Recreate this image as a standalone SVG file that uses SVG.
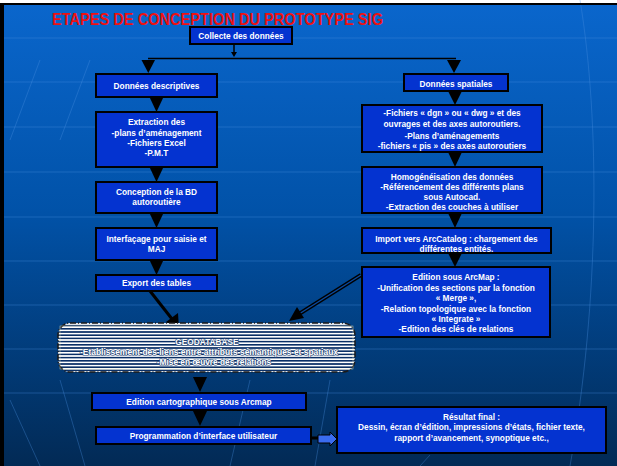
<svg xmlns="http://www.w3.org/2000/svg" width="617" height="466" viewBox="0 0 617 466">
<defs>
<linearGradient id="bg" x1="0" y1="0" x2="0" y2="1">
<stop offset="0" stop-color="#0a66cc"/>
<stop offset="0.45" stop-color="#0152a8"/>
<stop offset="1" stop-color="#022a55"/>
</linearGradient>
<pattern id="stripes" width="8" height="3.2" patternUnits="userSpaceOnUse">
<rect width="8" height="3.2" fill="#0a2f66"/>
<rect y="0" width="8" height="1.6" fill="#ffffff"/>
</pattern>
<marker id="ah" viewBox="0 0 10 10" refX="9" refY="5" markerWidth="4" markerHeight="4" orient="auto" markerUnits="strokeWidth">
<path d="M0,0 L10,5 L0,10 z" fill="#000"/>
</marker>
<style>
.box{fill:#0433d0;stroke:#000;stroke-width:2}
.t{font-family:"Liberation Sans",Arial,sans-serif;font-weight:bold;font-size:8.3px;fill:#fff;text-anchor:middle}
.tri{fill:#000}
.grid{stroke:#4a8ee0;stroke-width:1;fill:none;opacity:0.35}
.conn{stroke:#000;fill:none}
</style>
</defs>
<rect width="617" height="466" fill="#ffffff"/>
<rect x="0" y="4" width="617" height="462" fill="url(#bg)"/>
<g id="background-grid">
<line class="grid" x1="4" y1="38" x2="617" y2="38"/>
<line class="grid" x1="4" y1="82" x2="617" y2="82"/>
<line class="grid" x1="4" y1="127" x2="617" y2="127"/>
<line class="grid" x1="4" y1="172" x2="617" y2="172"/>
<line class="grid" x1="4" y1="217" x2="617" y2="217"/>
<line class="grid" x1="4" y1="261" x2="617" y2="261"/>
<line class="grid" x1="4" y1="305" x2="617" y2="305"/>
<line class="grid" x1="4" y1="349" x2="617" y2="349"/>
<line class="grid" x1="4" y1="393" x2="617" y2="393"/>
<path class="grid" d="M580,0 C600,120 600,300 570,466"/>
<path class="grid" d="M40,60 L10,140"/>
<path class="grid" d="M90,60 L60,140"/>
<path class="grid" d="M10,400 L40,466"/>
<path class="grid" d="M60,380 L85,466"/>
<path class="grid" d="M250,380 L230,466"/>
<path class="grid" d="M330,380 L315,466"/>
<path class="grid" d="M430,455 L420,466"/>
</g>
<rect x="0" y="3" width="617" height="2" fill="#000"/>
<rect x="0" y="3" width="4" height="463" fill="#000"/>
<text x="52" y="25" font-family="'Liberation Sans',Arial,sans-serif" font-weight="bold" font-size="17" fill="#ee1111" textLength="331" lengthAdjust="spacingAndGlyphs">ETAPES DE CONCEPTION DU PROTOTYPE SIG</text>

<g id="connectors">
<line class="conn" x1="234" y1="45" x2="234" y2="52" stroke-width="1.5"/>
<polygon class="tri" points="231,52 237,52 234,57"/>
<line class="conn" x1="148" y1="58.5" x2="456" y2="58.5" stroke-width="1.5"/>
<polygon class="tri" points="141.5,60 155,60 148.3,73"/>
<polygon class="tri" points="447,60 461,60 454,73"/>
<polygon class="tri" points="149.5,97 163.5,97 156.5,112"/>
<polygon class="tri" points="149.5,167 163.5,167 156.5,182"/>
<polygon class="tri" points="149.5,213 163.5,213 156.5,228"/>
<polygon class="tri" points="149.5,260 163.5,260 156.5,275"/>
<polygon class="tri" points="448,91 462,91 455,105"/>
<polygon class="tri" points="448,152 462,152 455,167"/>
<polygon class="tri" points="448,213 462,213 455,228"/>
<polygon class="tri" points="448,253 462,253 455,267"/>
<line class="conn" x1="150" y1="291" x2="172" y2="319" stroke-width="3"/>
<polygon class="tri" points="166,322 178,313 179,329"/>
<line class="conn" x1="361" y1="275" x2="299" y2="314" stroke-width="4"/>
<line x1="361" y1="275" x2="299" y2="314" stroke="#0a4aa0" stroke-width="1.4"/>
<polygon class="tri" points="289,321 297,307 304,318"/>
<polygon class="tri" points="193,377 207,377 200,392"/>
<polygon class="tri" points="193,411 207,411 200,426"/>
<line class="conn" x1="311" y1="438" x2="318" y2="438" stroke-width="3"/>
<polygon points="318,435 330,435 330,432 337,439 330,446 330,443 318,443" fill="#3a6cf0" stroke="#000" stroke-width="1"/>
</g>

<g id="collecte">
<rect class="box" x="190" y="27" width="102" height="17"/>
<text class="t" x="241" y="38.5" font-size="7.3">Collecte des données</text>
</g>

<g id="donnees-descriptives">
<rect class="box" x="96" y="74" width="121" height="23"/>
<text class="t" x="156.5" y="88.5">Données descriptives</text>
</g>
<g id="extraction">
<rect class="box" x="96" y="112" width="121" height="55"/>
<text class="t" x="156.5" y="125">Extraction des</text>
<text class="t" x="156.5" y="135.5">-plans d’aménagement</text>
<text class="t" x="156.5" y="145.5">-Fichiers Excel</text>
<text class="t" x="156.5" y="155.5">-P.M.T</text>
</g>
<g id="conception">
<rect class="box" x="96" y="182" width="121" height="31"/>
<text class="t" x="156.5" y="195">Conception de la BD</text>
<text class="t" x="156.5" y="205">autoroutière</text>
</g>
<g id="interfacage">
<rect class="box" x="96" y="228" width="121" height="32"/>
<text class="t" x="156.5" y="242">Interfaçage pour saisie et</text>
<text class="t" x="156.5" y="252">MAJ</text>
</g>
<g id="export">
<rect class="box" x="96" y="275" width="121" height="16"/>
<text class="t" x="156.5" y="286">Export des tables</text>
</g>

<g id="donnees-spatiales">
<rect class="box" x="404" y="74" width="104" height="17"/>
<text class="t" x="456" y="86.5">Données spatiales</text>
</g>
<g id="fichiers">
<rect class="box" x="362" y="105" width="180" height="47"/>
<text class="t" x="452" y="116">-Fichiers « dgn » ou « dwg » et des</text>
<text class="t" x="452" y="127">ouvrages et des axes autoroutiers.</text>
<text class="t" x="452" y="138.5">-Plans d’aménagements</text>
<text class="t" x="452" y="149">-fichiers « pis » des axes autoroutiers</text>
</g>
<g id="homogeneisation">
<rect class="box" x="362" y="167" width="180" height="46"/>
<text class="t" x="452" y="180">Homogénéisation des données</text>
<text class="t" x="452" y="190">-Référencement des différents plans</text>
<text class="t" x="452" y="200">sous Autocad.</text>
<text class="t" x="452" y="210">-Extraction des couches à utiliser</text>
</g>
<g id="import">
<rect class="box" x="362" y="228" width="189" height="25"/>
<text class="t" x="456.5" y="242">Import vers ArcCatalog : chargement des</text>
<text class="t" x="456.5" y="252">différentes entités.</text>
</g>
<g id="edition-arcmap">
<rect class="box" x="362" y="267" width="188" height="70"/>
<text class="t" x="456" y="280">Edition sous ArcMap :</text>
<text class="t" x="456" y="291">-Unification des sections par la fonction</text>
<text class="t" x="456" y="301">« Merge »,</text>
<text class="t" x="456" y="311.5">-Relation topologique avec la fonction</text>
<text class="t" x="456" y="322">« Integrate »</text>
<text class="t" x="456" y="332">-Edition des clés de relations</text>
</g>

<g id="geodatabase">
<rect x="58" y="323" width="297" height="49" rx="12" fill="url(#stripes)" stroke="#1a1a1a" stroke-width="1.5" stroke-dasharray="6 2 1 2"/>
<rect x="60" y="326" width="293" height="43" fill="none" stroke="#f4f0c0" stroke-width="0.6" opacity="0.7"/>
<g style="paint-order:stroke" stroke="#2a4a7a" stroke-width="1.2">
<text class="t" x="207" y="345" font-size="8.5">GEODATABASE</text>
<text class="t" x="209" y="355" font-size="7.6" textLength="258" lengthAdjust="spacingAndGlyphs">-Etablissement des liens entre attributs sémantiques et spatiaux</text>
<text class="t" x="214" y="365" font-size="7.6">-Mise en œuvre des relations</text>
</g>
</g>

<g id="edition-cartographique">
<rect class="box" x="92" y="393" width="214" height="17"/>
<text class="t" x="199" y="405">Edition cartographique sous Arcmap</text>
</g>
<g id="programmation">
<rect class="box" x="96" y="427" width="215" height="17"/>
<text class="t" x="203.5" y="439">Programmation d’interface utilisateur</text>
</g>
<g id="resultat">
<rect class="box" x="337" y="407" width="269" height="46"/>
<text class="t" x="471.5" y="420">Résultat final :</text>
<text class="t" x="471.5" y="430">Dessin, écran d’édition, impressions d’états, fichier texte,</text>
<text class="t" x="471.5" y="441">rapport d’avancement,  synoptique etc.,</text>
</g>
</svg>
